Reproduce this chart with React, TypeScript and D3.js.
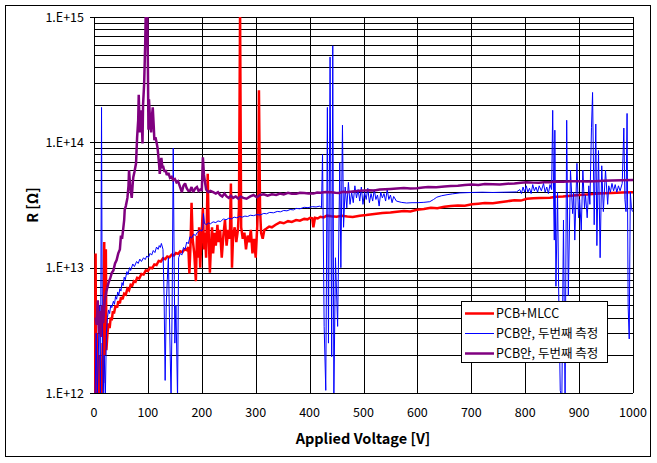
import React from "react";
import * as d3 from "d3";

// values in units of 1e12 ohm (1 = 1.E+12)
const redV = [1, 3, 4, 6, 7, 9, 10, 12, 14, 16, 17, 19, 20, 22, 23, 25, 27, 29, 31, 33, 35, 37, 40, 43, 45, 48, 50, 53, 56, 59, 62, 65, 68, 71, 74, 77, 80, 84, 88, 92, 96, 100, 104, 108, 112, 116, 120, 124, 128, 132, 136, 140, 144, 148, 152, 156, 160, 164, 168, 172, 175, 177, 179, 181, 183, 186, 189, 191, 193, 195, 197, 199, 202, 204, 206, 208, 211, 213, 215, 217, 219, 221, 224, 226, 229, 231, 234, 237, 240, 243, 246, 249, 252, 254, 256, 258, 261, 264, 267, 269, 271, 273, 276, 279, 282, 285, 288, 291, 294, 297, 300, 303, 305, 306, 308, 310, 313, 316, 320, 325, 330, 337, 345, 352, 360, 367, 375, 382, 390, 396, 401, 405, 407, 410, 415, 420, 426, 432, 440, 450, 460, 470, 480, 493, 505, 520, 535, 550, 562, 575, 587, 599, 612, 625, 637, 650, 662, 675, 688, 701, 713, 725, 740, 753, 767, 780, 792, 803, 815, 827, 846, 858, 870, 885, 900, 915, 930, 945, 960, 980, 1000];
const redR = [0.9, 13, 0.9, 3, 0.9, 2, 0.9, 1.5, 0.9, 2.5, 1.2, 16, 2, 14, 2.2, 3, 3.6, 3.3, 4, 3.8, 4.5, 4.3, 5, 4.8, 5.4, 5.2, 5.8, 5.6, 6.2, 6.1, 6.8, 6.6, 7.3, 7.2, 7.8, 7.7, 8.3, 8.2, 8.9, 8.8, 9.5, 9.4, 10, 9.9, 10.6, 10.5, 11.3, 11.2, 11.9, 11.7, 12.3, 12.1, 12.7, 12.5, 13.1, 12.9, 13.5, 13.3, 14, 13.8, 14.6, 9, 15, 33, 17, 13, 7.8, 18, 12, 21, 10, 16, 30, 14, 19, 12, 56, 17, 9.1, 15, 21, 13, 19, 15, 22, 16, 20, 12, 18, 24, 15, 20, 17, 47, 10, 18, 21, 16, 20, 30, 1100, 21, 17, 19, 14, 18, 16, 20, 13, 17, 12, 22, 40, 260, 30, 19, 17, 20, 20.5, 21.3, 21, 22, 23, 22.6, 23.5, 23.2, 24, 23.7, 24.5, 24.3, 25, 24.8, 21, 25, 24.7, 25.5, 25.2, 26, 25.7, 25.5, 25.9, 25.6, 25.4, 26, 26.3, 26.8, 27.3, 27.5, 27.9, 28.3, 28.1, 29, 29.4, 30, 29.8, 30.6, 31, 31.4, 31.2, 32, 32.4, 32.8, 32.6, 33.3, 33.9, 34.5, 34.3, 35.5, 35.8, 36, 36.2, 36.8, 37, 37.5, 38, 38.4, 38.8, 39.2, 39.5, 39.7, 40];

const blueV = [2, 4, 6, 8, 10, 12, 14, 15, 17, 19, 21, 23, 25, 27, 29, 31, 33, 36, 38, 40, 42, 44, 46, 48, 50, 52, 54, 56, 58, 61, 63, 66, 68, 72, 75, 79, 82, 85, 88, 92, 95, 98, 101, 104, 107, 110, 113, 116, 119, 121, 123, 125, 128, 130, 132, 134, 136, 138, 140, 143, 145, 147, 149, 150, 152, 155, 157, 160, 163, 166, 169, 172, 175, 178, 181, 185, 188, 192, 197, 200, 202, 203, 205, 209, 212, 216, 221, 226, 230, 235, 240, 245, 250, 255, 260, 265, 270, 275, 280, 285, 290, 296, 302, 308, 315, 320, 326, 333, 340, 346, 352, 358, 364, 370, 375, 382, 390, 397, 405, 412, 419, 422, 424, 427, 430, 433, 435, 438, 441, 443, 445, 448, 452, 456, 458, 461, 463, 466, 469, 472, 475, 478, 481, 484, 487, 490, 493, 496, 499, 502, 505, 508, 511, 514, 517, 520, 523, 526, 529, 532, 535, 538, 541, 544, 547, 550, 553, 556, 561, 570, 580, 590, 600, 612, 623, 630, 636, 645, 655, 665, 679, 700, 720, 740, 760, 784, 790, 793, 796, 799, 802, 805, 808, 811, 814, 817, 820, 823, 826, 830, 834, 837, 840, 843, 846, 849, 851, 853, 854, 855, 857, 860, 862, 865, 868, 871, 874, 877, 880, 884, 888, 890, 892, 896, 899, 901, 904, 907, 910, 912, 915, 918, 920, 923, 925, 928, 931, 933, 936, 939, 942, 945, 949, 953, 955, 958, 961, 964, 967, 970, 973, 976, 980, 983, 985, 987, 989, 991, 993, 995, 997, 999];
const blueR = [0.9, 3, 0.9, 2, 5, 0.9, 190, 8, 0.9, 2, 0.9, 3, 4, 4.6, 4.3, 5, 4.8, 5.4, 5.1, 5.9, 5.6, 6.4, 6, 6.8, 6.5, 7.6, 7.2, 8.4, 8, 9.3, 8.8, 10, 9.5, 10.7, 10.2, 11.2, 10.8, 11.7, 11.2, 12, 11.6, 12.4, 12, 13, 12.6, 13.7, 13.2, 14.6, 14, 15, 14.5, 15.6, 14, 6, 1.26, 5, 8, 12, 4, 0.9, 5, 90, 8, 2.5, 5, 0.9, 12, 13, 12.6, 14.5, 14, 16, 15.5, 17.7, 17.2, 18.5, 18, 19.2, 20, 19.6, 20.5, 27, 22.5, 22, 22.8, 22.4, 23.2, 22.9, 23.6, 23.3, 24.5, 24.1, 24.8, 24.5, 25.3, 25, 25.6, 25.3, 25.8, 25.6, 26.2, 26, 26.5, 26.3, 27.1, 26.9, 27.6, 27.4, 28.1, 27.9, 28.6, 28.4, 29.1, 28.9, 29.7, 29.5, 30.3, 30.1, 30.7, 30.5, 31, 30, 80, 3.4, 1.05, 190, 2.5, 480, 1.95, 590, 0.9, 12, 3.4, 69, 10, 137, 21, 44, 30, 48, 32, 40, 33, 45, 36, 42, 34, 44, 32, 40, 35, 43, 33, 39, 34, 42, 35, 38, 31, 40, 36, 39, 34, 42, 35, 38, 33, 37, 34, 33.2, 32.8, 33, 33, 33.2, 33.6, 35, 36.5, 37.5, 38.2, 38.8, 39.5, 39.8, 40, 39.8, 40, 40.2, 42, 39, 44, 40, 45, 40, 43, 39, 46, 41, 44, 40, 45, 41, 47, 40, 44, 39, 46, 42, 180, 30, 16.6, 125, 7.1, 40, 7.1, 1.05, 0.9, 24, 0.9, 150, 6, 60, 27, 40, 16.6, 68, 25, 35, 20, 60, 30, 38, 25, 45, 32, 132, 250, 22, 140, 15, 86, 12, 65, 28, 60, 32, 45, 40, 47, 41, 46, 40, 45, 41, 47, 130, 35, 28, 170, 4.9, 2.7, 40, 30, 28];

const purpleV = [3, 5, 7, 9, 11, 13, 15, 17, 20, 23, 27, 30, 33, 36, 39, 42, 45, 48, 50, 52, 54, 56, 57, 59, 62, 64, 65, 67, 70, 72, 73, 75, 78, 80, 82, 83, 85, 86, 88, 90, 91, 93, 95, 96, 99, 100, 101, 102, 104, 106, 108, 109, 111, 112, 114, 116, 118, 119, 121, 122, 124, 125, 127, 128, 131, 133, 135, 138, 141, 144, 147, 150, 153, 156, 159, 163, 166, 169, 172, 175, 178, 181, 184, 188, 191, 194, 197, 200, 202, 204, 206, 208, 212, 216, 221, 226, 230, 234, 238, 242, 246, 250, 254, 258, 263, 268, 272, 277, 283, 290, 296, 302, 308, 315, 322, 330, 338, 345, 352, 360, 367, 375, 382, 390, 398, 407, 414, 420, 430, 440, 448, 455, 462, 469, 480, 493, 502, 510, 520, 530, 540, 550, 562, 575, 587, 599, 610, 620, 635, 650, 662, 675, 688, 701, 713, 725, 740, 753, 767, 780, 792, 803, 815, 825, 835, 846, 858, 870, 885, 900, 915, 930, 945, 960, 980, 1000];
const purpleR = [4, 3.5, 5.5, 3, 4.5, 2.8, 5, 3.6, 5.5, 6.5, 7.6, 8.2, 9.1, 9.5, 10.8, 11.5, 13, 14, 18, 17, 20, 24, 29, 31, 36, 45, 60, 45, 36, 48, 53, 58, 68, 110, 150, 240, 120, 160, 180, 98, 200, 290, 610, 1100, 1100, 400, 126, 220, 150, 120, 170, 190, 130, 104, 110, 100, 90, 81, 65, 56, 70, 75, 62, 65, 58, 60, 55, 57, 52, 53, 50, 51, 48, 49, 45, 40, 45, 47, 43, 41, 41, 44, 40, 43, 44, 41, 42, 41, 76, 55, 48, 42, 40, 41, 40, 39, 40, 38, 37, 39, 37, 36, 37.5, 36, 37, 35.5, 37, 36, 35.5, 37, 38, 36.5, 38, 38.5, 37.5, 38.5, 38, 39, 38.4, 39.5, 38.9, 38.8, 39.6, 39.5, 39, 39, 39.8, 39.6, 40.2, 40, 39.6, 39.5, 40.3, 40, 40.6, 41, 41.3, 41.5, 41.2, 42, 42.3, 42.5, 42.8, 43.2, 42.9, 43, 43.6, 44, 43.8, 44.5, 44.9, 45, 45.6, 46, 45.7, 46.5, 46.2, 46, 46.8, 47, 47.6, 48, 47.7, 47.5, 48.1, 48, 48.6, 48.5, 49, 49, 48.7, 49, 49.3, 49.5, 49.8, 50];

const xTicks = [0, 100, 200, 300, 400, 500, 600, 700, 800, 900, 1000];
const yMajor = [1, 10, 100, 1000];
const yLabels = ["1.E+12", "1.E+13", "1.E+14", "1.E+15"];

const series = [
  { name: "PCB+MLCC", v: redV, r: redR, color: "#FF0000", width: 2.5 },
  { name: "PCB안, 두번째 측정", v: blueV, r: blueR, color: "#0000FF", width: 1 },
  { name: "PCB안, 두번째 측정", v: purpleV, r: purpleR, color: "#800080", width: 2.5 },
];

const W = 657;
const H = 463;
const m = { left: 94, right: 633, top: 17, bottom: 393 };
const font = "'Noto Sans CJK KR', 'DejaVu Sans', sans-serif";

export default function App() {
  const x = d3.scaleLinear().domain([0, 1000]).range([m.left, m.right]);
  const y = d3.scaleLog().domain([1, 1000]).range([m.bottom, m.top]);
  const grid = y.ticks();

  const line = d3
    .line<[number, number]>()
    .x((d) => x(d[0]))
    .y((d) => y(d[1]));

  return (
    <div style={{ position: "absolute", left: 0, top: 0 }}>
      <svg width={W} height={H} style={{ display: "block", background: "#fff" }}>
        <rect x={5.5} y={5.5} width={645} height={451} fill="#fff" stroke="#000" strokeWidth={1} />
        <defs>
          <clipPath id="plot">
            <rect x={m.left} y={m.top} width={m.right - m.left} height={m.bottom - m.top} />
          </clipPath>
        </defs>

        {/* grid */}
        {grid.map((t) => (
          <line
            key={"h" + t}
            x1={m.left}
            x2={m.right}
            y1={Math.round(y(t)) + 0.5}
            y2={Math.round(y(t)) + 0.5}
            stroke="#000"
            strokeWidth={1}
          />
        ))}
        {xTicks.map((t) => (
          <line
            key={"v" + t}
            x1={Math.round(x(t)) + 0.5}
            x2={Math.round(x(t)) + 0.5}
            y1={m.top}
            y2={m.bottom}
            stroke="#000"
            strokeWidth={1}
          />
        ))}

        {/* data, drawn in series order like the original */}
        <g clipPath="url(#plot)">
          {series.map((s, i) => {
            const pts = s.v.map((v, k) => [v, s.r[k]] as [number, number]);
            return (
              <path
                key={i}
                d={line(pts) ?? ""}
                fill="none"
                stroke={s.color}
                strokeWidth={s.width}
                strokeLinejoin="miter"
                strokeMiterlimit={2}
              />
            );
          })}
        </g>

        {/* y axis ticks + labels */}
        {yMajor.map((t, i) => (
          <g key={"y" + t}>
            <line
              x1={m.left - 4}
              x2={m.left}
              y1={Math.round(y(t)) + 0.5}
              y2={Math.round(y(t)) + 0.5}
              stroke="#000"
            />
            <text
              x={84}
              y={y(t) + 4.5}
              textAnchor="end"
              fontFamily={font}
              fontSize={12.5}
              fill="#000"
            >
              {yLabels[i]}
            </text>
          </g>
        ))}

        {/* x labels */}
        {xTicks.map((t) => (
          <text
            key={"xl" + t}
            x={x(t)}
            y={417}
            textAnchor="middle"
            fontFamily={font}
            fontSize={12.5}
            fill="#000"
          >
            {t}
          </text>
        ))}

        <text
          x={363}
          y={444}
          textAnchor="middle"
          fontFamily={font}
          fontSize={14.5}
          fontWeight="bold"
          fill="#000"
        >
          Applied Voltage [V]
        </text>
        <text
          transform={`translate(38,205) rotate(-90)`}
          textAnchor="middle"
          fontFamily={font}
          fontSize={14.5}
          fontWeight="bold"
          fill="#000"
        >
          R [Ω]
        </text>

        {/* legend */}
        <g>
          <rect x={461.5} y={301.5} width={146} height={61} fill="#fff" stroke="#000" />
          {series.map((s, i) => (
            <g key={"lg" + i} transform={`translate(0,${313 + i * 20})`}>
              <line x1={465} x2={494} y1={0.5} y2={0.5} stroke={s.color} strokeWidth={s.width} />
              <text x={496} y={5} fontFamily={font} fontSize={12.5} fill="#000">
                {s.name}
              </text>
            </g>
          ))}
        </g>
      </svg>
    </div>
  );
}
